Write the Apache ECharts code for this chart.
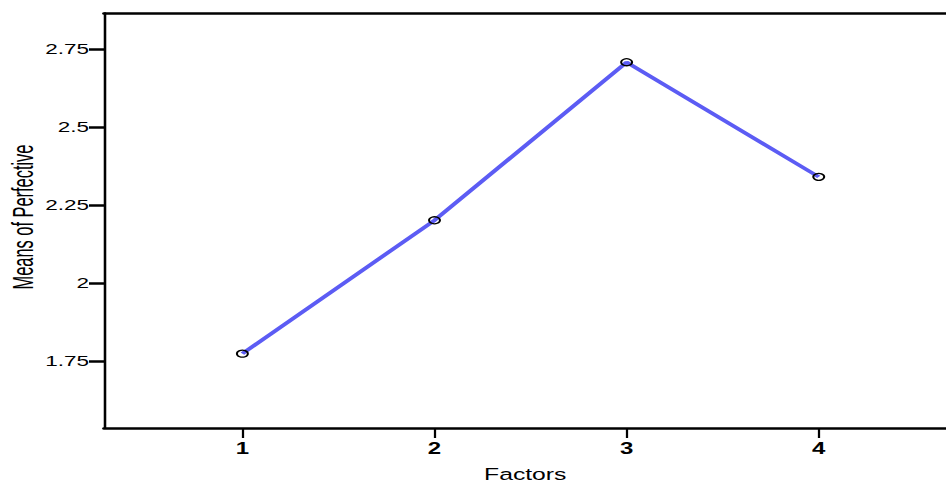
<!DOCTYPE html>
<html>
<head>
<meta charset="utf-8">
<script src="https://cdn.jsdelivr.net/npm/echarts@6/dist/echarts.min.js"></script>
<style>
html,body{margin:0;padding:0;background:#fff;overflow:hidden}
#wrap{width:946px;height:483px;overflow:hidden}
#c{width:630.67px;height:483px;transform:scaleX(1.5);transform-origin:0 0}
</style>
</head>
<body>
<div id="wrap"><div id="c"></div></div>
<script>
const factors = [1, 2, 3, 4];
const means = [1.774, 2.201, 2.707, 2.340];
const yTicks = [1.75, 2, 2.25, 2.5, 2.75];
const yTitle = 'Means of Perfective';
const xTitle = 'Factors';

const chart = echarts.init(document.getElementById('c'), null, {renderer: 'svg'});
const data = factors.map((f, i) => [f, means[i]]);
chart.setOption({
  animation: false,
  backgroundColor: '#fff',
  grid: {left: 69.33, right: 0, top: 13, bottom: 55, containLabel: false, outerBoundsMode: 'none'},
  graphic: [{
    type: 'text', x: 14.7, y: 217, rotation: Math.PI / 2, scaleX: 0.82, scaleY: 1,
    style: {text: yTitle, font: '20px "Liberation Sans"', fill: '#000', align: 'center', verticalAlign: 'middle'}
  }],
  xAxis: [{
    type: 'value', min: 0.2797, max: 4.665, interval: 1,
    name: xTitle, nameLocation: 'middle', nameGap: 38,
    nameTextStyle: {fontFamily: 'Liberation Sans', fontSize: 16.5, color: '#000'},
    axisLine: {show: true, onZero: false, lineStyle: {color: '#000', width: 2.5}},
    axisTick: {show: true, length: 10, lineStyle: {color: '#000', width: 1.5}, customValues: factors},
    axisLabel: {customValues: factors, fontFamily: 'Liberation Sans', fontWeight: 'bold', fontSize: 16, color: '#000', margin: 13},
    splitLine: {show: false}
  }, {
    type: 'value', position: 'top', min: 0, max: 1,
    axisLine: {show: true, onZero: false, lineStyle: {color: '#000', width: 2.5}},
    axisTick: {show: false}, axisLabel: {show: false}, splitLine: {show: false}
  }],
  yAxis: {
    type: 'value', min: 1.536, max: 2.8646,
    axisLine: {show: true, onZero: false, lineStyle: {color: '#000', width: 1.7}},
    axisTick: {show: true, length: 10, lineStyle: {color: '#000', width: 2.5}, customValues: yTicks},
    axisLabel: {customValues: yTicks, fontFamily: 'Liberation Sans', fontSize: 15, color: '#000', margin: 10,
      formatter: v => String(v)},
    splitLine: {show: false}
  },
  series: [{
    type: 'line', data: data,
    lineStyle: {color: '#5c5cf4', width: 3.3},
    symbol: 'circle', symbolSize: [7.3, 7],
    itemStyle: {color: 'rgba(0,0,0,0)', borderColor: '#000', borderWidth: 1.3},
    z: 3
  }]
});
</script>
</body>
</html>
